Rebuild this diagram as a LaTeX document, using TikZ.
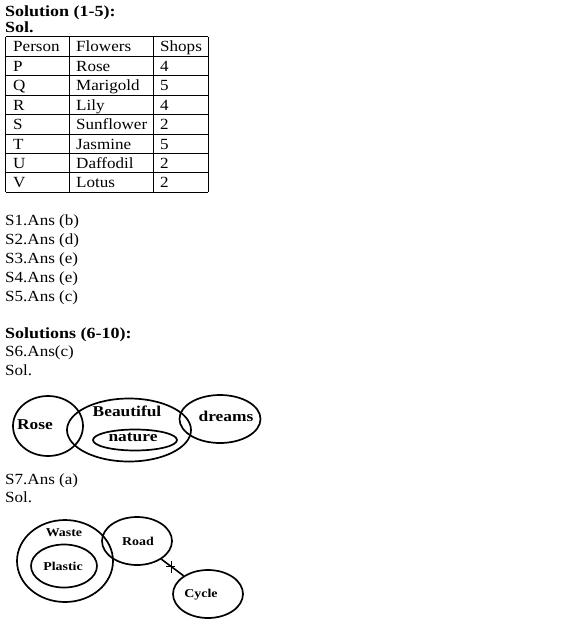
\documentclass[tikz,border=0pt]{standalone}
\usepackage{fontspec}
\setmainfont[FakeStretch=1.1,BoldFeatures={FakeStretch=1.16}]{Liberation Serif}
\usetikzlibrary{shapes.geometric}
\begin{document}
\begin{tikzpicture}[x=1pt,y=-1pt,
  txt/.style={anchor=base west,inner sep=0pt,font=\fontsize{15.5}{18}\selectfont},
  btxt/.style={anchor=base west,inner sep=0pt,font=\fontsize{15.5}{18}\selectfont\bfseries},
  vtxt/.style={inner sep=0pt,font=\fontsize{15}{18}\selectfont\bfseries},
  wtxt/.style={inner sep=0pt,font=\fontsize{12}{15}\selectfont\bfseries},
  grid/.style={line width=1pt},
  oval/.style={draw,ellipse,line width=1.7pt,inner sep=0pt}]
\useasboundingbox (0,0) rectangle (574,626);
% header
\node[btxt] (h1) at (5,17) {Solution (1-5):};
\node[btxt] (h2) at (5,33) {Sol.};
% table
\foreach \k in {0,...,8} {\draw[grid] (5.5,{37+19.4*\k}) -- (208,{37+19.4*\k});}
\foreach \xx in {5.5,69,153,208} {\draw[grid] (\xx,37) -- (\xx,192.2);}
\foreach \a/\b/\c [count=\k from 0] in {Person/Flowers/Shops,P/Rose/4,Q/Marigold/5,R/Lily/4,S/Sunflower/2,T/Jasmine/5,U/Daffodil/2,V/Lotus/2} {
  \node[txt] (ta\k) at (13,{37+19.4*\k+15}) {\a};
  \node[txt] (tb\k) at (76,{37+19.4*\k+15}) {\b};
  \node[txt] (tc\k) at (160,{37+19.4*\k+15}) {\c};
}
% answers
\node[txt] (s1) at (5,225) {S1.Ans (b)};
\node[txt] (s2) at (5,244) {S2.Ans (d)};
\node[txt] (s3) at (5,263) {S3.Ans (e)};
\node[txt] (s4) at (5,282) {S4.Ans (e)};
\node[txt] (s5) at (5,301) {S5.Ans (c)};
\node[btxt] (h3) at (5,338) {Solutions (6-10):};
\node[txt] (s6) at (5,356) {S6.Ans(c)};
\node[txt] (sol6) at (5,375) {Sol.};
% Venn 1
\node[oval,minimum width=70,minimum height=60] (rose) at (48,426) {};
\node[oval,minimum width=124,minimum height=63] (beaut) at (129,430) {};
\node[oval,minimum width=84,minimum height=21] (nat) at (135,440) {};
\node[oval,minimum width=81,minimum height=48] (drm) at (220,419) {};
\node[vtxt] (tr) at (35,425) {Rose};
\node[vtxt] (tbf) at (127,411) {Beautiful};
\node[vtxt] (tn) at (133,437) {nature};
\node[vtxt] (td) at (226,416) {dreams};
% S7
\node[txt] (s7) at (5,484) {S7.Ans (a)};
\node[txt] (sol7) at (5,502) {Sol.};
% Venn 2
\node[oval,minimum width=96,minimum height=82] (waste) at (65,561) {};
\node[oval,minimum width=66,minimum height=43] (plas) at (64,566) {};
\node[oval,minimum width=70,minimum height=48] (road) at (137,541) {};
\node[oval,minimum width=70,minimum height=48] (cyc) at (208,594) {};
\node[wtxt] (tw) at (64,533) {Waste};
\node[wtxt] (tp) at (63,566) {Plastic};
\node[wtxt] (tro) at (138,541) {Road};
\node[wtxt] (tcy) at (201,595) {Cycle};
\draw[line width=1.6pt] (road) -- coordinate[pos=0.45] (m) (cyc);
\draw[line width=1.4pt] ([yshift=-6]m) -- ([yshift=6]m);
\draw[line width=1.4pt] ([xshift=-5]m) -- ([xshift=4]m);
\end{tikzpicture}
\end{document}
